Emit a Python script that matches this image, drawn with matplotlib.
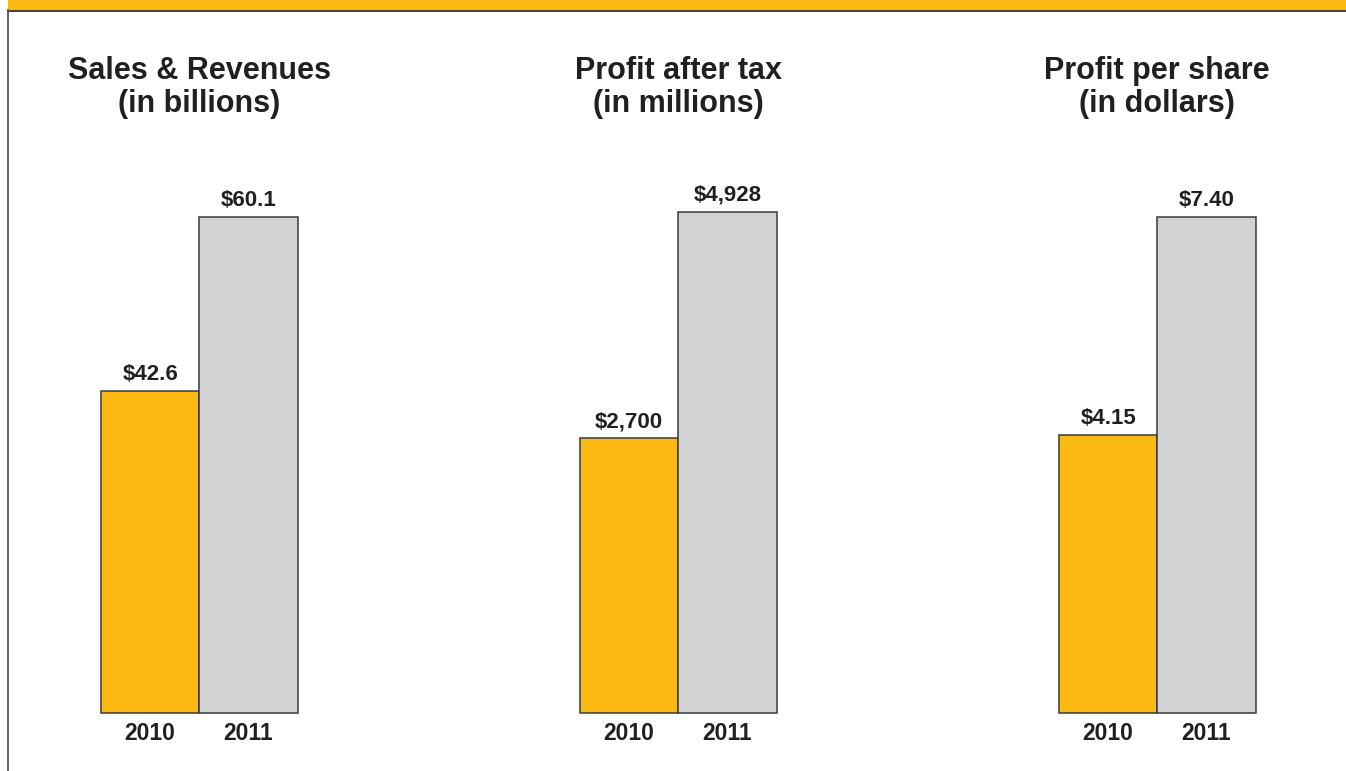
import matplotlib
matplotlib.use("Agg")
import matplotlib.pyplot as plt
from matplotlib.patches import Rectangle
import numpy as np

# ---- data ----
years = ["2010", "2011"]
panel_titles = ["Sales & Revenues", "Profit after tax", "Profit per share"]
panel_units = ["(in billions)", "(in millions)", "(in dollars)"]
sales_values = [42.6, 60.1]
profit_values = [2700, 4928]
eps_values = [4.15, 7.40]
value_labels = [["$42.6", "$60.1"], ["$2,700", "$4,928"], ["$4.15", "$7.40"]]

# ---- style / layout ----
W, H = 1346, 771
YELLOW = "#FDB913"
GRAY = "#D1D3D4"
EDGE = "#3A3A3A"
TXT = "#231F20"
FONT = ["Liberation Sans", "DejaVu Sans"]

plt.rcParams["font.family"] = FONT

fig = plt.figure(figsize=(W / 100, H / 100), dpi=100)
fig.patch.set_facecolor("white")

def fx(px):
    return px / W

def fy(py):
    return 1 - py / H

# top band and frame
fig.patches.append(Rectangle((fx(8), fy(10)), 1 - fx(8), fy(0) - fy(10),
                             transform=fig.transFigure, facecolor=YELLOW,
                             edgecolor="none", zorder=0))
fig.lines.append(plt.Line2D([fx(8), 1], [fy(11), fy(11)], transform=fig.transFigure,
                            color="#4A4538", linewidth=1.5))
fig.lines.append(plt.Line2D([fx(7.5), fx(7.5)], [fy(10), 0], transform=fig.transFigure,
                            color="#555555", linewidth=1.3))

panels = [
    (sales_values, 10.0, 66.9, 101),
    (profit_values, 0.0, 5534.0, 580),
    (eps_values, 0.0, 8.404, 1059),
]

base_px = 713.3
top_px = 150.0
ax_w_px = 196.5

for i, (vals, floor, ymax, left_px) in enumerate(panels):
    ax = fig.add_axes([fx(left_px), fy(base_px), fx(ax_w_px), (base_px - top_px) / H])
    x = np.arange(len(vals))
    heights = np.array(vals, dtype=float) - floor
    ax.bar(x, heights, bottom=floor, width=1.0, color=[YELLOW, GRAY],
           edgecolor=EDGE, linewidth=1.1, clip_on=False)
    ax.set_xlim(-0.5, 1.5)
    ax.set_ylim(floor, ymax)
    ax.axis("off")
    for j, v in enumerate(vals):
        ax.annotate(value_labels[i][j], xy=(x[j], v), xycoords="data",
                    xytext=(0, 11 * 0.72), textcoords="offset points",
                    ha="center", va="baseline", fontsize=16, fontweight="bold",
                    color=TXT, annotation_clip=False)
        ax.annotate(years[j], xy=(x[j], floor), xycoords="data",
                    xytext=(0, -26.7 * 0.72), textcoords="offset points",
                    ha="center", va="baseline", fontsize=16.5, fontweight="bold",
                    color=TXT, annotation_clip=False)
    cx = left_px + ax_w_px / 2
    fig.text(fx(cx), fy(79), panel_titles[i], ha="center", va="baseline",
             fontsize=22, fontweight="bold", color=TXT)
    fig.text(fx(cx), fy(112), panel_units[i], ha="center", va="baseline",
             fontsize=22, fontweight="bold", color=TXT)

fig.savefig("out.png", dpi=100, facecolor="white")
